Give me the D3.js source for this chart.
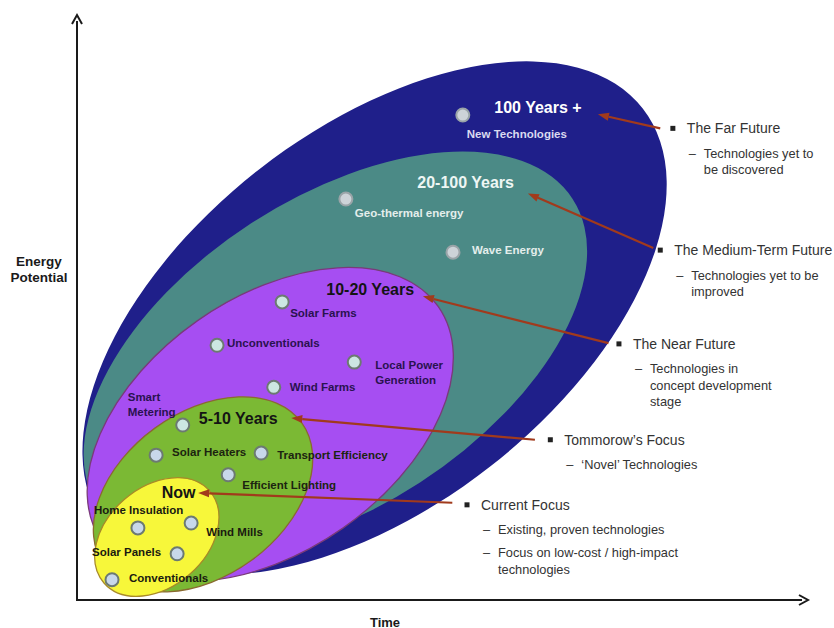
<!DOCTYPE html>
<html>
<head>
<meta charset="utf-8">
<script src="https://cdn.jsdelivr.net/npm/d3@7"></script>
<style>
  html, body { margin: 0; padding: 0; background: #ffffff; }
  svg { display: block; font-family: "Liberation Sans", Arial, sans-serif; }
</style>
</head>
<body>
<svg id="chart" width="834" height="628"></svg>
<script>
// ---------- data (time units on x, energy-potential units on y) ----------
const stageNames  = ["100 Years +", "20-100 Years", "10-20 Years", "5-10 Years", "Now"];
const stageCx     = [42.5, 36.9, 27.6, 18.0, 11.4];
const stageCy     = [40.3, 35.3, 25.1, 15.1, 9.0];
const stageRx     = [48.6, 40.4, 29.3, 17.4, 10.0];
const stageRy     = [26.9, 22.1, 18.1, 11.7, 7.1];
const stageTilt   = [38, 33, 35, 36, 41];
const stageTitleT = [59.6, 48.6, 35.6, 17.4, 12.1];
const stageTitleE = [70.4, 59.6, 44.4, 26.0, 15.3];

const techNames = ["New Technologies", "Geo-thermal energy", "Wave Energy", "Solar Farms",
  "Unconventionals", "Local Power\nGeneration", "Wind Farms", "Smart\nMetering",
  "Solar Heaters", "Transport Efficiency", "Efficient Lighting", "Home Insulation",
  "Wind Mills", "Solar Panels", "Conventionals"];
const techT     = [55.1, 38.4, 53.7, 29.3, 20.0, 39.6, 28.1, 15.1, 11.3, 26.3, 21.6, 8.7, 16.3, 14.3, 5.0];
const techE     = [69.3, 57.3, 49.7, 42.6, 36.4, 34.0, 30.4, 25.0, 20.7, 21.0, 17.9, 10.3, 11.0, 6.6, 2.9];
const techStage = [0, 1, 1, 2, 2, 2, 2, 2, 3, 3, 3, 4, 4, 4, 4];

const noteHeads = ["The Far Future", "The Medium-Term Future", "The Near Future",
  "Tommorow\u2019s Focus", "Current Focus"];
const noteSubs = [
  [["Technologies yet to", "be discovered"]],
  [["Technologies yet to be", "improved"]],
  [["Technologies in", "concept development", "stage"]],
  [["\u2018Novel\u2019 Technologies"]],
  [["Existing, proven technologies"], ["Focus on low-cost / high-impact", "technologies"]]
];
const noteT      = [85.1, 83.3, 77.4, 67.6, 55.7];
const noteE      = [67.4, 50.0, 36.6, 22.9, 13.6];
const arrowFromT = [83.3, 82.3, 75.9, 65.4, 53.6];
const arrowFromE = [67.4, 50.3, 36.7, 22.9, 13.9];
const arrowToT   = [74.4, 64.4, 49.4, 30.6, 17.3];
const arrowToE   = [69.4, 58.1, 43.4, 26.0, 15.3];

const axisTitles = ["Time", "Energy\nPotential"];

// ---------- styles / layout ----------
const stageFill   = ["#1f1f8a", "#4b8a86", "#a64ef2", "#7bb934", "#f7f73a"];
const stageStroke = ["none", "none", "#7a3a7a", "#8a6a30", "#a88a28"];
const titleColor  = ["#ffffff", "#eef6f4", "#141414", "#141414", "#141414"];
const techColor   = ["#dadaf0", "#e4eeec", "#2a1250", "#1c2410", "#1a1a10"];
const techLayout = [
  {dx: 4, dy: 19, a: "start"}, {dx: 9, dy: 14, a: "start"}, {dx: 19, dy: -2, a: "start"},
  {dx: 8, dy: 11, a: "start"}, {dx: 10, dy: -2, a: "start"}, {dx: 21, dy: 3, a: "start"},
  {dx: 16, dy: 0, a: "start"}, {dx: -55, dy: -28, a: "start"}, {dx: 16, dy: -3, a: "start"},
  {dx: 16, dy: 2, a: "start"}, {dx: 14, dy: 10, a: "start"}, {dx: -44, dy: -18, a: "start"},
  {dx: 15, dy: 9, a: "start"}, {dx: -16, dy: -2, a: "end"}, {dx: 17, dy: -2, a: "start"}
];

const W = 834, H = 628;
const x = d3.scaleLinear().domain([0, 104.4]).range([77, 808]);
const y = d3.scaleLinear().domain([0, 83.6]).range([600, 15]);
const sx = v => x(v) - x(0);
const sy = v => y(0) - y(v);

const svg = d3.select("#chart");

// ---------- nested stage ellipses ----------
const stages = stageNames.map((n, i) => ({n, i}));
svg.append("g").selectAll("ellipse").data(stages).join("ellipse")
  .attr("cx", d => x(stageCx[d.i]))
  .attr("cy", d => y(stageCy[d.i]))
  .attr("rx", d => sx(stageRx[d.i]))
  .attr("ry", d => sy(stageRy[d.i]))
  .attr("transform", d => `rotate(${-stageTilt[d.i]},${x(stageCx[d.i])},${y(stageCy[d.i])})`)
  .attr("fill", d => stageFill[d.i])
  .attr("stroke", d => stageStroke[d.i])
  .attr("stroke-width", 1.3);

// ---------- technology dots ----------
const techs = techNames.map((n, i) => ({n, i}));
svg.append("g").selectAll("circle").data(techs).join("circle")
  .attr("cx", d => x(techT[d.i]))
  .attr("cy", d => y(techE[d.i]))
  .attr("r", 6.5)
  .attr("fill", d => techStage[d.i] < 2 ? "#cdd3d8" : (techStage[d.i] === 2 ? "#cce6e2" : "#c8d8ea"))
  .attr("stroke", d => techStage[d.i] < 2 ? "#9aa4a8" : "#6c7a72")
  .attr("stroke-width", 2);

// ---------- technology labels ----------
const tl = svg.append("g").selectAll("text").data(techs).join("text")
  .attr("x", d => x(techT[d.i]) + techLayout[d.i].dx)
  .attr("y", d => y(techE[d.i]) + techLayout[d.i].dy)
  .attr("text-anchor", d => techLayout[d.i].a)
  .attr("dominant-baseline", "central")
  .attr("font-size", 11.5)
  .attr("font-weight", "bold")
  .attr("fill", d => techColor[techStage[d.i]]);
tl.each(function(d) {
  const lines = d.n.split("\n");
  const t = d3.select(this);
  lines.forEach((ln, k) => {
    t.append("tspan")
      .attr("x", x(techT[d.i]) + techLayout[d.i].dx)
      .attr("dy", k === 0 ? 0 : 15)
      .text(ln);
  });
});

// ---------- stage titles ----------
svg.append("g").selectAll("text").data(stages).join("text")
  .attr("x", d => x(stageTitleT[d.i]))
  .attr("y", d => y(stageTitleE[d.i]))
  .attr("dominant-baseline", "central")
  .attr("font-size", 16)
  .attr("font-weight", "bold")
  .attr("fill", d => titleColor[d.i])
  .text(d => d.n);

// ---------- arrows ----------
const arrowColor = "#a13a1c";
const arrows = noteHeads.map((n, i) => ({i}));
const ag = svg.append("g");
arrows.forEach(d => {
  const x1 = x(arrowFromT[d.i]), y1 = y(arrowFromE[d.i]);
  const x2 = x(arrowToT[d.i]), y2 = y(arrowToE[d.i]);
  const ang = Math.atan2(y2 - y1, x2 - x1);
  const L = 11, Wd = 4;
  const bx = x2 - L * Math.cos(ang), by = y2 - L * Math.sin(ang);
  ag.append("line")
    .attr("x1", x1).attr("y1", y1).attr("x2", bx).attr("y2", by)
    .attr("stroke", arrowColor).attr("stroke-width", 2.2);
  ag.append("path")
    .attr("d", `M${x2},${y2}L${bx + Wd * Math.sin(ang)},${by - Wd * Math.cos(ang)}L${bx - Wd * Math.sin(ang)},${by + Wd * Math.cos(ang)}Z`)
    .attr("fill", arrowColor);
});

// ---------- annotations ----------
const ng = svg.append("g").attr("fill", "#333333");
noteHeads.forEach((h, i) => {
  const bx = x(noteT[i]), by = y(noteE[i]);
  ng.append("rect").attr("x", bx - 2.5).attr("y", by - 2.5).attr("width", 5).attr("height", 5).attr("fill", "#222");
  ng.append("text").attr("x", bx + 14).attr("y", by).attr("dominant-baseline", "central")
    .attr("font-size", 14).text(h);
  let cy = by + 25;
  noteSubs[i].forEach(item => {
    ng.append("text").attr("x", bx + 16).attr("y", cy).attr("dominant-baseline", "central")
      .attr("font-size", 12.8).text("\u2013");
    item.forEach((ln, k) => {
      ng.append("text").attr("x", bx + 31).attr("y", cy + k * 16.5).attr("dominant-baseline", "central")
        .attr("font-size", 12.8).text(ln);
    });
    cy += (item.length - 1) * 16.5 + 23;
  });
});

// ---------- axes ----------
const axg = svg.append("g");
axg.append("line").attr("x1", x(0)).attr("y1", y(0)).attr("x2", x(0)).attr("y2", y(83.6) + 6)
  .attr("stroke", "#1a1a1a").attr("stroke-width", 2);
axg.append("line").attr("x1", x(0) - 1).attr("y1", y(0)).attr("x2", x(104.4) - 6).attr("y2", y(0))
  .attr("stroke", "#1a1a1a").attr("stroke-width", 2);
axg.append("path")
  .attr("d", `M${x(0) - 5},${y(83.6) + 9}L${x(0)},${y(83.6)}L${x(0) + 5},${y(83.6) + 9}`)
  .attr("fill", "none").attr("stroke", "#1a1a1a").attr("stroke-width", 2);
axg.append("path")
  .attr("d", `M${x(104.4) - 9},${y(0) - 5}L${x(104.4)},${y(0)}L${x(104.4) - 9},${y(0) + 5}`)
  .attr("fill", "none").attr("stroke", "#1a1a1a").attr("stroke-width", 2);

axg.append("text").attr("x", 385).attr("y", 622).attr("text-anchor", "middle")
  .attr("dominant-baseline", "central").attr("font-size", 13).attr("font-weight", "bold")
  .attr("fill", "#1a1a1a").text(axisTitles[0]);
const yt = axg.append("text").attr("text-anchor", "middle").attr("font-size", 13.5)
  .attr("font-weight", "bold").attr("fill", "#1a1a1a");
axisTitles[1].split("\n").forEach((ln, k) => {
  yt.append("tspan").attr("x", 39).attr("y", 261 + k * 16).attr("dominant-baseline", "central").text(ln);
});
</script>
</body>
</html>
